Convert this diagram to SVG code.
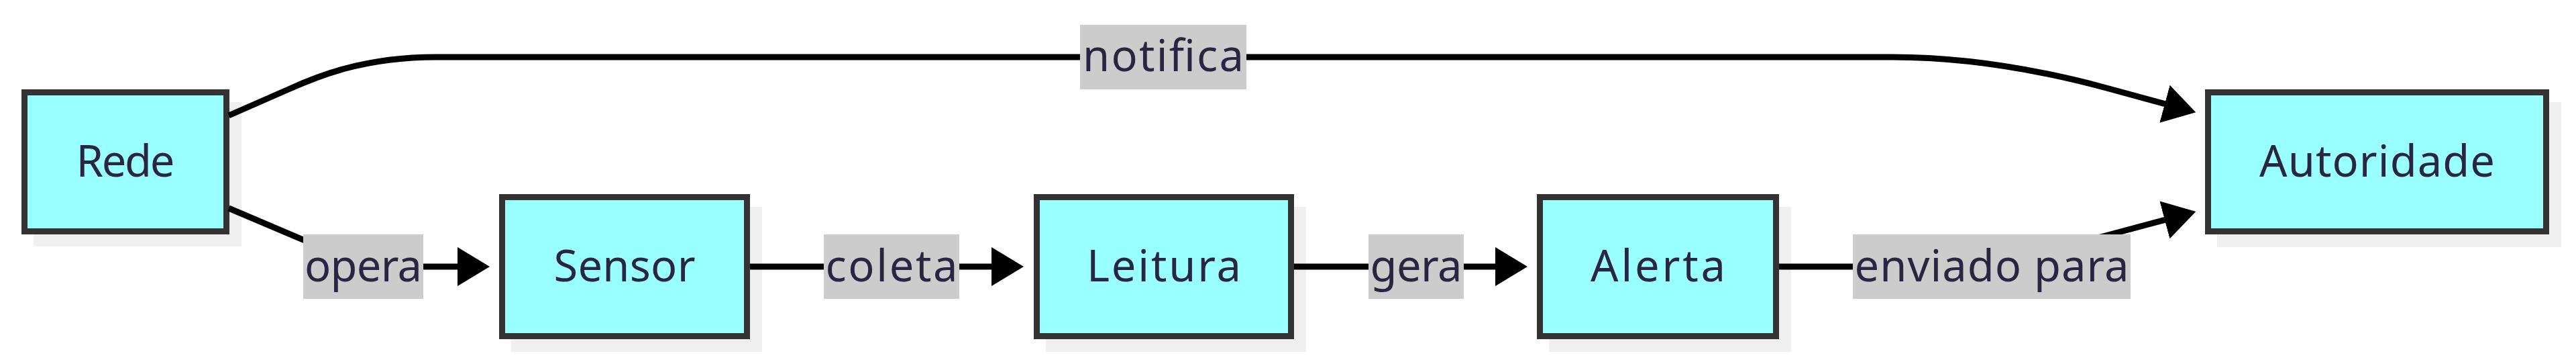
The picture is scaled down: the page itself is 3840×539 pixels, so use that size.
<svg xmlns="http://www.w3.org/2000/svg" width="3840" height="539" viewBox="0 0 3840 539">
<style>
.shadow{fill:#efefef}
.box{fill:#99ffff;stroke:#333333;stroke-width:9}
.txt{font-family:"Noto Sans","Open Sans","DejaVu Sans",sans-serif;font-size:65px;fill:#2a2540;text-anchor:middle}
.lbl{fill:#cccccc}
.edge{fill:none;stroke:#000000;stroke-width:9}
</style>
<defs>
<marker id="arrow" markerUnits="userSpaceOnUse" markerWidth="48" markerHeight="58" viewBox="0 0 48 58" refX="38" refY="29" orient="auto">
<path d="M0,0 L48,29 L0,58 z" fill="#000000"/>
</marker>
</defs>
<rect width="3840" height="539" fill="#ffffff"/>
<g id="node-rede">
<rect class="shadow" x="50" y="152" width="310" height="215"/>
<rect class="box" x="36.5" y="137.5" width="301" height="207"/>
<text class="txt" x="187" y="263" textLength="147">Rede</text>
</g>
<g id="node-sensor">
<rect class="shadow" x="762" y="308" width="374" height="216"/>
<rect class="box" x="748.5" y="293.5" width="365" height="207"/>
<text class="txt" x="931" y="419" textLength="211">Sensor</text>
</g>
<g id="node-leitura">
<rect class="shadow" x="1559" y="308" width="388" height="216"/>
<rect class="box" x="1545.5" y="293.5" width="379" height="207"/>
<text class="txt" x="1735" y="419" textLength="230">Leitura</text>
</g>
<g id="node-alerta">
<rect class="shadow" x="2309" y="308" width="361" height="216"/>
<rect class="box" x="2295.5" y="293.5" width="352" height="207"/>
<text class="txt" x="2471.5" y="419" textLength="201">Alerta</text>
</g>
<g id="node-autoridade">
<rect class="shadow" x="3305" y="152" width="513" height="216"/>
<rect class="box" x="3291.5" y="137.5" width="504" height="207"/>
<text class="txt" x="3543.5" y="263" textLength="351">Autoridade</text>
</g>
<g id="connectors">
<path class="edge" d="M341,172 L430,133 C470,115 540,85 650,85 L2820,85 C2930,85 3040,104 3140,131 L3263.6,164.7" marker-end="url(#arrow)"/>
<path class="edge" d="M341,310 L452,357 C480,370 500,397 540,397 L720,397" marker-end="url(#arrow)"/>
<path class="edge" d="M1118,397 L1516,397" marker-end="url(#arrow)"/>
<path class="edge" d="M1929,397 L2267,397" marker-end="url(#arrow)"/>
<path class="edge" d="M2652,397 L2800,397 C2950,397 3040,378 3120,356 L3263.6,317.6" marker-end="url(#arrow)"/>
</g>
<g id="edge-labels">
<g id="label-notifica"><rect class="lbl" x="1610" y="37" width="248" height="96"/><text class="txt" x="1734" y="106" textLength="240">notifica</text></g>
<g id="label-opera"><rect class="lbl" x="452" y="349" width="179" height="96"/><text class="txt" x="541.5" y="418.5" textLength="175">opera</text></g>
<g id="label-coleta"><rect class="lbl" x="1228" y="349" width="202" height="96"/><text class="txt" x="1329" y="418.5" textLength="197">coleta</text></g>
<g id="label-gera"><rect class="lbl" x="2040" y="349" width="142" height="96"/><text class="txt" x="2111" y="418.5" textLength="137">gera</text></g>
<g id="label-enviado"><rect class="lbl" x="2762" y="349" width="414" height="96"/><text class="txt" x="2969" y="418.5" textLength="409">enviado para</text></g>
</g>
</svg>
